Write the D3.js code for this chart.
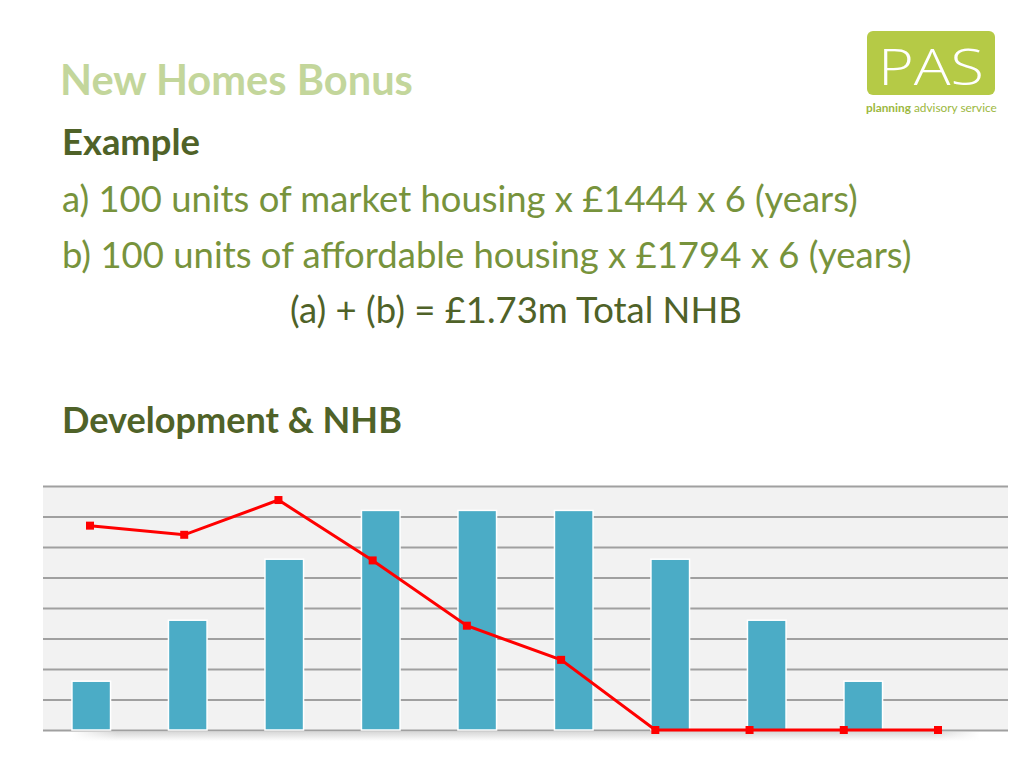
<!DOCTYPE html>
<html><head><meta charset="utf-8">
<script src="https://cdn.jsdelivr.net/npm/d3@7"></script>
<style>html,body{margin:0;padding:0;background:#fff;}svg{display:block;font-family:Lato,"Open Sans",sans-serif;}</style>
</head><body>
<svg id="c" width="1024" height="768"></svg>
<script>
const categories = ["1","2","3","4","5","6","7","8","9","10"];
const development = [40, 90, 140, 180, 180, 180, 140, 90, 40, 0];
const nhb = [167.5, 160, 188.5, 139, 85.5, 57.5, 0, 0, 0, 0];
const yTicks = [0, 25, 50, 75, 100, 125, 150, 175, 200];
const textLines = [
  {t:"New Homes Bonus", x:60, y:95, w:353, size:36, weight:700, color:"#c3d69b"},
  {t:"Example", x:62, y:155, w:138, size:32, weight:700, color:"#4f6228"},
  {t:"a) 100 units of market housing x \u00a31444 x 6 (years)", x:62, y:212, w:796, size:32, weight:400, color:"#77933c"},
  {t:"b) 100 units of affordable housing x \u00a31794 x 6 (years)", x:62, y:268, w:850, size:32, weight:400, color:"#77933c"},
  {t:"(a) + (b) = \u00a31.73m Total NHB", x:290, y:323, w:452, size:32, weight:400, color:"#4f6228"},
  {t:"Development & NHB", x:62, y:433, w:340, size:32, weight:700, color:"#4f6228"}
];

(function(){
const svg = d3.select("#c");
const defs = svg.append("defs");
const sg = defs.append("linearGradient").attr("id","shadow").attr("x1",0).attr("x2",0).attr("y1",0).attr("y2",1);
sg.append("stop").attr("offset","0%").attr("stop-color","#d8d8d8");
sg.append("stop").attr("offset","100%").attr("stop-color","#ffffff");
const sgx = defs.append("linearGradient").attr("id","shadowx");
sgx.append("stop").attr("offset","0%").attr("stop-color","#fff").attr("stop-opacity",1);
sgx.append("stop").attr("offset","5%").attr("stop-color","#fff").attr("stop-opacity",0);
sgx.append("stop").attr("offset","95%").attr("stop-color","#fff").attr("stop-opacity",0);
sgx.append("stop").attr("offset","100%").attr("stop-color","#fff").attr("stop-opacity",1);

textLines.forEach(d => {
  const el = svg.append("text").attr("x",d.x).attr("y",d.y)
    .attr("font-size",d.size).attr("font-weight",d.weight).attr("fill",d.color).text(d.t);
  const L = el.node().getComputedTextLength();
  if (L > 0) el.attr("font-size", d.size * d.w / L);
});

// logo
const logo = svg.append("g");
logo.append("rect").attr("x",867).attr("y",31).attr("width",128).attr("height",64).attr("rx",6).attr("fill","#b5ca46");
logo.append("text").attr("x",878).attr("y",85).attr("font-size",50).attr("font-weight",300)
  .attr("fill","#fff").attr("font-family","'Open Sans',Lato,sans-serif")
  .attr("textLength",106).attr("lengthAdjust","spacingAndGlyphs").text("PAS");
const sub = logo.append("text").attr("x",866).attr("y",112).attr("font-size",12).attr("fill","#9cb840");
sub.append("tspan").attr("font-weight",700).text("planning");
sub.append("tspan").text(" advisory service");
{ const L = sub.node().getComputedTextLength(); if (L>0) sub.attr("font-size", 12*131/L); }

// chart
const pl = 43, pr = 1008, pt = 486, pb = 730;
const y = d3.scaleLinear().domain([0,200]).range([pb, pt]);
const x = d3.scaleBand().domain(categories).range([pl,pr]).paddingInner(0.6).paddingOuter(0.3);
const xl = d3.scalePoint().domain(categories).range([90, 938]);

svg.append("rect").attr("x",72).attr("y",pb+2).attr("width",908).attr("height",9).attr("fill","url(#shadow)");
svg.append("rect").attr("x",72).attr("y",pb+2).attr("width",908).attr("height",9).attr("fill","url(#shadowx)");

svg.append("rect").attr("x",pl).attr("y",pt).attr("width",pr-pl).attr("height",pb-pt).attr("fill","#f2f2f2");

const yAxis = d3.axisLeft(y).tickValues(yTicks).tickSize(-(pr-pl)).tickFormat("");
const ga = svg.append("g").attr("transform",`translate(${pl},0)`).call(yAxis);
ga.select(".domain").remove();
ga.selectAll(".tick line").attr("stroke","#a0a0a0").attr("stroke-width",2);

svg.append("g").selectAll("rect").data(categories).join("rect")
  .attr("x", d => x(d)).attr("width", x.bandwidth())
  .attr("y", (d,i) => y(development[i])).attr("height", (d,i) => y(0) - y(development[i]))
  .attr("fill","#4bacc6").attr("stroke","#ffffff").attr("stroke-width",1.5)
  .attr("display",(d,i)=> development[i] > 0 ? null : "none");

const line = d3.line().x((d,i) => xl(categories[i])).y(d => y(d));
svg.append("path").datum(nhb).attr("d", line).attr("fill","none").attr("stroke","#ff0000").attr("stroke-width",3);
svg.append("g").selectAll("rect").data(nhb).join("rect")
  .attr("x",(d,i)=> xl(categories[i]) - 4).attr("y", d => y(d) - 4)
  .attr("width",8).attr("height",8).attr("fill","#ff0000");
})();
</script>
</body></html>
